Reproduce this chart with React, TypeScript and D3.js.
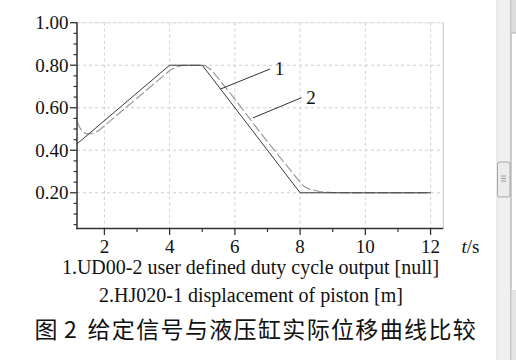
import React from "react";
import * as d3 from "d3";

const xTicks = [2, 4, 6, 8, 10, 12];
const xMinor = [3, 5, 7, 9, 11];
const yTicks = [0.2, 0.4, 0.6, 0.8, 1.0];
const yTickLabels = ["0.20", "0.40", "0.60", "0.80", "1.00"];
const yMinor = [0.05, 0.1, 0.15, 0.25, 0.3, 0.35, 0.45, 0.5, 0.55, 0.65, 0.7, 0.75, 0.85, 0.9, 0.95];

const s1t = [1.16, 4, 5, 8, 12];
const s1v = [0.43, 0.8, 0.8, 0.2, 0.2];

const s2t = [1.16, 1.25, 1.35, 1.45, 1.6, 1.8, 2.0, 3.0, 4.0, 4.2, 4.4, 5.0, 5.1, 5.3, 6.0, 7.0, 8.0, 8.1, 8.3, 8.6, 9.0, 9.5, 12.0];
const s2v = [0.535, 0.505, 0.485, 0.477, 0.478, 0.49, 0.515, 0.645, 0.775, 0.792, 0.799, 0.8, 0.797, 0.775, 0.64, 0.44, 0.25, 0.232, 0.216, 0.206, 0.201, 0.2, 0.2];

const legend1 = "1.UD00-2 user defined duty cycle output [null]";
const legend2 = "2.HJ020-1 displacement of piston [m]";
const captionFig = "图";
const captionNum = "2";
const captionText = "给定信号与液压缸实际位移曲线比较";

export default function App() {
  const L = 77, R = 443.3, T = 22.7, B = 228.5;
  const x = d3.scaleLinear().domain([1.16, 12.39]).range([L, R]);
  const y = d3.scaleLinear().domain([0.032, 1.0]).range([B, T]);
  const line = d3.line<[number, number]>().x(d => x(d[0])).y(d => y(d[1]));
  const d1 = line(s1t.map((t, i) => [t, s1v[i]]) as [number, number][]) || "";
  const d2 = line(s2t.map((t, i) => [t, s2v[i]]) as [number, number][]) || "";
  const serif = "'Liberation Serif', 'Times New Roman', serif";
  const cjk = "'Noto Sans CJK SC', sans-serif";

  return (
    <svg width={516} height={360} style={{ position: "absolute", left: 0, top: 0, background: "#fff" }}>
      <rect x={0} y={0} width={516} height={360} fill="#fff" />
      {/* grid */}
      {xTicks.map(t => (
        <line key={"gx" + t} x1={x(t)} x2={x(t)} y1={T} y2={B} stroke="#cfcfcf" strokeDasharray="3,3" />
      ))}
      {yTicks.map(t => (
        <line key={"gy" + t} x1={L} x2={R} y1={y(t)} y2={y(t)} stroke="#cfcfcf" strokeDasharray="3,3" />
      ))}
      <line x1={L} x2={R} y1={T} y2={T} stroke="#e4e4e4" />
      <line x1={R} x2={R} y1={T} y2={B} stroke="#c4c4c4" />
      {/* series */}
      <path d={d2} fill="none" stroke="#9a9a9a" strokeWidth={1.2} strokeDasharray="10,3" />
      <path d={d1} fill="none" stroke="#3a3a3a" strokeWidth={1} />
      {/* leaders */}
      <line x1={x(5.56)} y1={y(0.688)} x2={270} y2={69} stroke="#333" strokeWidth={1} />
      <text x={279.5} y={74.5} fontFamily={serif} fontSize={19} fill="#111" textAnchor="middle">1</text>
      <line x1={x(6.55)} y1={y(0.552)} x2={301.5} y2={97.7} stroke="#333" strokeWidth={1} />
      <text x={311} y={103.5} fontFamily={serif} fontSize={19} fill="#111" textAnchor="middle">2</text>
      {/* axes */}
      <line x1={L} x2={L} y1={T - 0.5} y2={B + 0.7} stroke="#333" strokeWidth={1.5} />
      <line x1={L - 0.7} x2={R} y1={B} y2={B} stroke="#333" strokeWidth={1.5} />
      {yTicks.map((t, i) => (
        <g key={"yt" + t}>
          <line x1={L - 7} x2={L} y1={y(t)} y2={y(t)} stroke="#333" strokeWidth={1.3} />
          <text x={L - 8.5} y={y(t) + 6.5} fontFamily={serif} fontSize={19} fill="#111" textAnchor="end">{yTickLabels[i]}</text>
        </g>
      ))}
      {yMinor.map(t => (
        <line key={"ym" + t} x1={L - 3.5} x2={L} y1={y(t)} y2={y(t)} stroke="#333" strokeWidth={1.2} />
      ))}
      {xTicks.map(t => (
        <g key={"xt" + t}>
          <line x1={x(t)} x2={x(t)} y1={B} y2={B + 6.5} stroke="#333" strokeWidth={1.3} />
          <text x={x(t)} y={252.5} fontFamily={serif} fontSize={19} fill="#111" textAnchor="middle">{t}</text>
        </g>
      ))}
      {xMinor.map(t => (
        <line key={"xm" + t} x1={x(t)} x2={x(t)} y1={B} y2={B + 3.5} stroke="#333" strokeWidth={1.2} />
      ))}
      <text x={461.5} y={252.5} fontFamily={serif} fontSize={19} fill="#111">
        <tspan fontStyle="italic">t</tspan>/s
      </text>
      {/* legend */}
      <text x={250.5} y={274} fontFamily={serif} fontSize={20} fill="#111" textAnchor="middle">{legend1}</text>
      <text x={251} y={302} fontFamily={serif} fontSize={20} fill="#111" textAnchor="middle">{legend2}</text>
      <text y={337.5} fontFamily={cjk} fontSize={23} fill="#111">
        <tspan x={34.5}>{captionFig}</tspan>
        <tspan x={64}>{captionNum}</tspan>
        <tspan x={87.5} letterSpacing={1.35}>{captionText}</tspan>
      </text>
      {/* scrollbar chrome */}
      <rect x={497} y={0} width={14} height={360} fill="#f0f0f0" />
      <line x1={497} x2={497} y1={0} y2={360} stroke="#dadada" />
      <line x1={511} x2={511} y1={0} y2={360} stroke="#9c9c9c" />
      <rect x={511.5} y={0} width={5} height={33} fill="#dcdcdc" />
      <line x1={511.5} x2={516} y1={33} y2={33} stroke="#b0b0b0" />
      <rect x={511.5} y={290} width={5} height={70} fill="#e4e4e4" />
      <rect x={497.5} y={162} width={12.5} height={35} rx={2} fill="#ececec" stroke="#a8a8a8" />
      {[176, 178.5, 181].map(v => (
        <line key={"g" + v} x1={501} x2={506} y1={v} y2={v} stroke="#888" strokeWidth={0.8} />
      ))}
    </svg>
  );
}
